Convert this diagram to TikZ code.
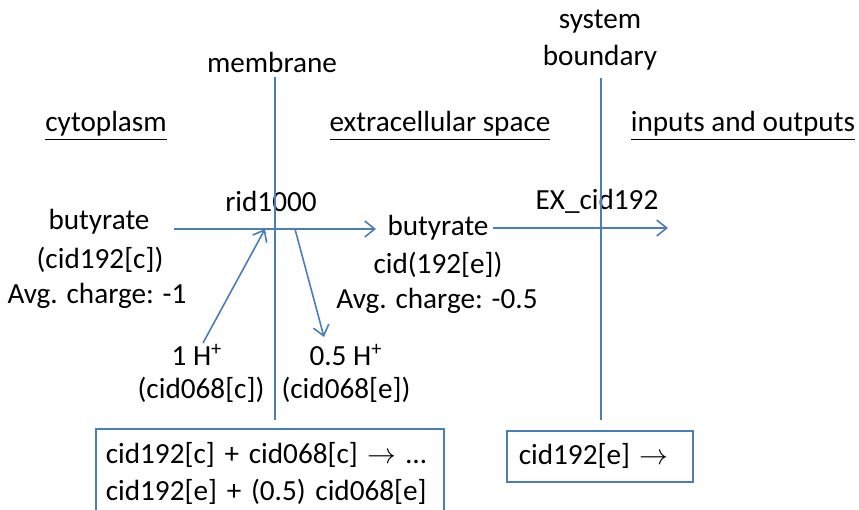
\documentclass[tikz,border=0pt]{standalone}
\usepackage{fontspec}
\setmainfont{Carlito}
\usetikzlibrary{arrows.meta}
\definecolor{flowblue}{RGB}{74,126,187}

\begin{document}
\begin{tikzpicture}[x=0.5pt, y=-0.5pt,
	txt/.style={font=\fontsize{14.6}{18.5}\selectfont, inner sep=0pt},
	wall/.style={flowblue, line width=0.8pt},
	flux/.style={flowblue, line width=0.8pt, -{Straight Barb[length=5pt,width=8pt]}},
	eqbox/.style={txt, draw=flowblue, line width=0.8pt, align=left, anchor=north west}]
	\useasboundingbox (0,0) rectangle (859,510);

	% headings
	\node[txt] (memb) at (272, 62)  {membrane};
	\node[txt] (sys1) at (600, 22)  {system};
	\node[txt] (sys2) at (600, 58)  {boundary};
	\node[txt] (cyto) at (106, 126) {\underline{cytoplasm}};
	\node[txt] (extr) at (440, 126) {\underline{extracellular space}};
	\node[txt] (inout) at (743, 126) {\underline{inputs and outputs}};

	% reactions
	\node[txt] (rxn) at (271, 201) {rid1000};
	\node[txt] (exch) at (597, 201) {EX\_cid192};

	% species
	\node[txt] (bc)   at (99, 222)  {butyrate};
	\node[txt] (bcid) at (100, 260) {(cid192[c])};
	\node[txt] (bcq)  at (97, 296)  {Avg. charge: -1};
	\node[txt] (be)   at (438, 228) {butyrate};
	\node[txt] (beid) at (438, 265) {cid(192[e])};
	\node[txt] (beq)  at (437, 301) {Avg. charge: -0.5};
	\node[txt] (hc)   at (197, 355) {1 H\textsuperscript{+}};
	\node[txt] (hcid) at (201, 390) {(cid068[c])};
	\node[txt] (he)   at (346, 355) {0.5 H\textsuperscript{+}};
	\node[txt] (heid) at (346, 390) {(cid068[e])};

	% equations
	\node[eqbox, text width=164pt, inner xsep=5pt, inner ysep=7pt] (eq1) at (95, 428)
		{cid192[c] + cid068[c] $\rightarrow$ …\\cid192[e] + (0.5) cid068[e]};
	\node[eqbox, text width=81pt, inner xsep=6pt, minimum height=25.5pt] (eq2) at (506, 430)
		{cid192[e] $\rightarrow$};

	% boundaries
	\coordinate (mtop) at (275, 77);
	\coordinate (mbot) at (275, 420);
	\coordinate (stop) at (601, 78);
	\coordinate (sbot) at (601, 420);
	\path[wall] (mtop) edge (mbot);
	\path[wall] (stop) edge (sbot);

	% fluxes
	\coordinate (tin)  at (174, 229);
	\coordinate (tout) at (376, 229);
	\coordinate (xin)  at (493, 228);
	\coordinate (xout) at (668, 228);
	\coordinate (hin)  at (203, 343);
	\coordinate (hjoin) at (265, 229);
	\coordinate (hsplit) at (295, 229);
	\coordinate (hout) at (324, 337);
	\path[flux] (tin) edge (tout);
	\path[flux] (xin) edge (xout);
	\path[flux] (hin) edge (hjoin);
	\path[flux] (hsplit) edge (hout);
\end{tikzpicture}
\end{document}
